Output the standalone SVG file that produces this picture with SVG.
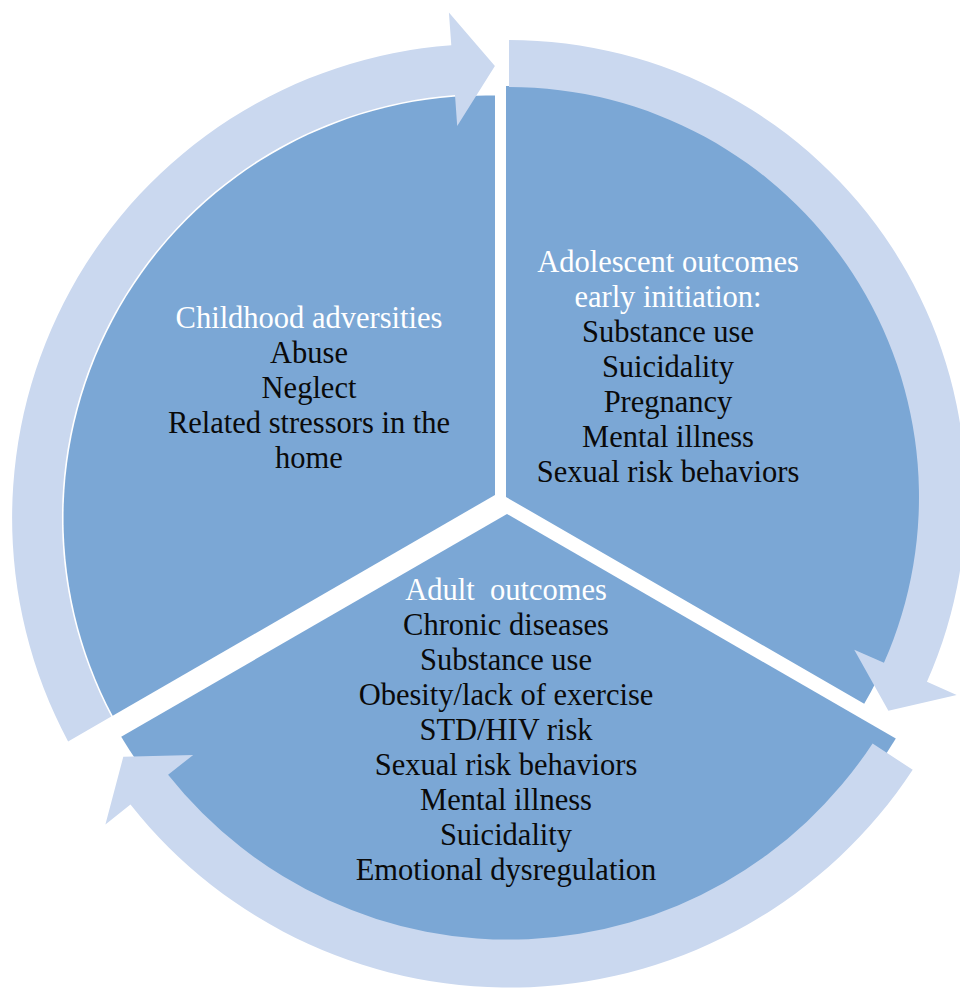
<svg xmlns="http://www.w3.org/2000/svg" width="960" height="990" viewBox="0 0 960 990">
<style>
.slice{fill:#7BA7D5;}
.arrow{fill:#CAD8EF;}
text{font-family:"Liberation Serif","Times New Roman",serif;font-size:30.5px;text-anchor:middle;fill:#0a0a0a;}
.title{fill:#ffffff;}
</style>
<rect width="960" height="990" fill="#ffffff"/>
<g id="node-childhood">
<path class="slice" d="M495,495 L495,95.6 A422.5,422.5 0 0 0 112.7,715.8 Z"/>
<text x="309" y="328" class="title">Childhood adversities</text>
<text x="309" y="363">Abuse</text>
<text x="309" y="398">Neglect</text>
<text x="309" y="433">Related stressors in the</text>
<text x="309" y="468">home</text>
</g>
<g id="node-adolescent">
<path class="slice" d="M506,497 L506,86 A411,411 0 0 1 864.2,703.8 Z"/>
<text x="668" y="272" class="title">Adolescent outcomes</text>
<text x="668" y="307" class="title">early initiation:</text>
<text x="668" y="342">Substance use</text>
<text x="668" y="377">Suicidality</text>
<text x="668" y="412">Pregnancy</text>
<text x="668" y="447">Mental illness</text>
<text x="668" y="482">Sexual risk behaviors</text>
</g>
<g id="node-adult">
<path class="slice" d="M507,514 L895.8,738.5 A452,452 0 0 1 121.2,736.8 Z"/>
<text x="506" y="600" class="title" xml:space="preserve">Adult  outcomes</text>
<text x="506" y="635">Chronic diseases</text>
<text x="506" y="670">Substance use</text>
<text x="506" y="705">Obesity/lack of exercise</text>
<text x="506" y="740">STD/HIV risk</text>
<text x="506" y="775">Sexual risk behaviors</text>
<text x="506" y="810">Mental illness</text>
<text x="506" y="845">Suicidality</text>
<text x="506" y="880">Emotional dysregulation</text>
</g>
<g id="connectors">
<path class="arrow" d="M68.1,741.5 A474,474 0 0 1 451.3,45.3 L448.9,12.4 L494.9,66.1 L457.2,126.1 L455.0,95.1 A424,424 0 0 0 111.3,716.5 Z"/>
<path class="arrow" d="M509,40 A457,457 0 0 1 926.95,681.84 L956.67,694.99 L888.4,710.8 L854.24,649.69 L883.96,662.83 A410,410 0 0 0 509,87 Z"/>
<path class="arrow" d="M912.7,769.8 A483,483 0 0 1 130.48,804.62 L105.4,824.49 L123.3,756.8 L193.17,754.92 L168.09,774.8 A435,435 0 0 0 872.6,743.4 Z"/>
</g>
</svg>
